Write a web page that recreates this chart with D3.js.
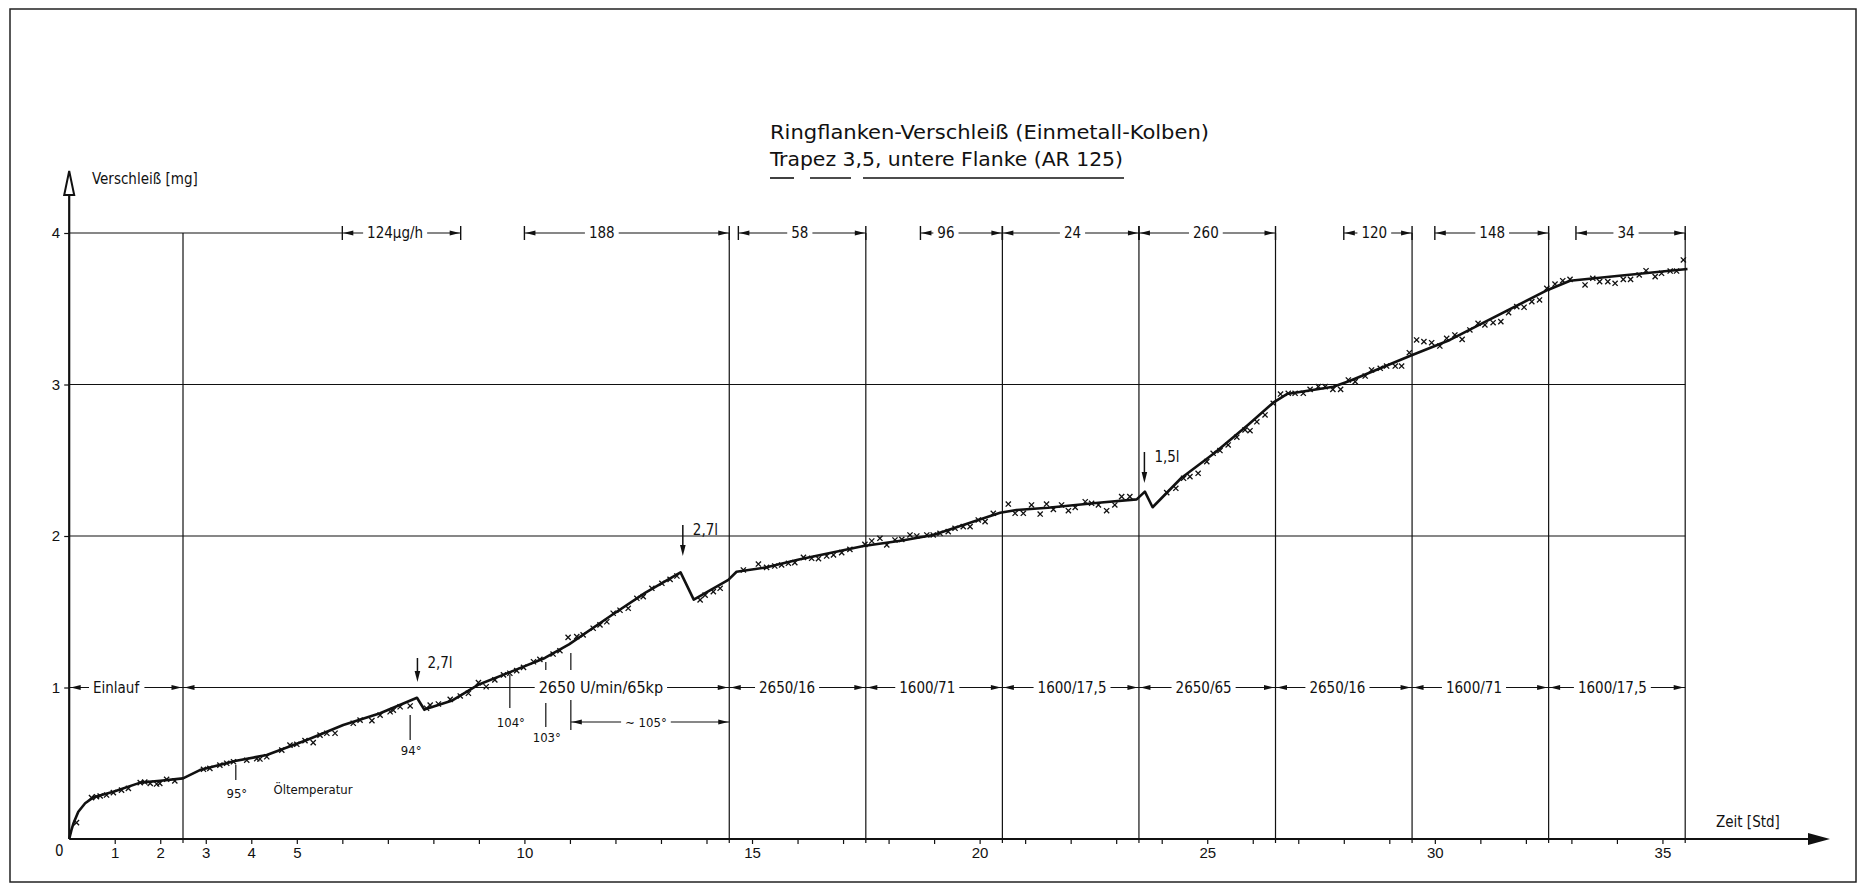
<!DOCTYPE html>
<html>
<head>
<meta charset="utf-8">
<script src="https://cdn.jsdelivr.net/npm/d3@7/dist/d3.min.js"></script>
<style>
  body { margin: 0; background: #fff; }
  svg { display: block; font-family: "DejaVu Sans Condensed", "DejaVu Sans", sans-serif; font-stretch: condensed; }
  text { fill: #111; }
</style>
</head>
<body>
<svg id="chart"></svg>
<script>
// drawn wear curve (hours, mg)
var curveH = [0, 0.05, 0.09, 0.2, 0.35, 0.53, 0.97, 1.56, 2.0, 2.5, 2.87, 3.64, 4.34, 5.22, 6.02, 6.83, 7.64, 7.8, 8.4, 9.0, 9.67,
  10.45, 10.98, 11.93, 12.66, 13.43, 13.72, 14.48, 14.66, 15.32, 16.03, 17.45, 18.3, 18.98, 20.45, 20.81, 21.5, 22.61, 23.45,
  23.63, 23.8, 24.43, 25.16, 25.9, 26.45, 26.75, 27.77, 28.14, 29.45, 30.33, 31.07, 32.48, 32.97, 34.0, 35.55];
var curveV = [0, 0.06, 0.10, 0.18, 0.236, 0.275, 0.312, 0.372, 0.385, 0.40, 0.455, 0.515, 0.554, 0.653, 0.752, 0.83, 0.932, 0.855, 0.912, 1.02, 1.10,
  1.195, 1.285, 1.48, 1.626, 1.76, 1.58, 1.71, 1.764, 1.793, 1.845, 1.934, 1.97, 2.007, 2.154, 2.172, 2.186, 2.219, 2.242,
  2.293, 2.19, 2.383, 2.548, 2.735, 2.88, 2.937, 2.985, 3.025, 3.188, 3.294, 3.408, 3.624, 3.685, 3.716, 3.762];

// measured points (x marks)
var markH = [0.16,0.49,0.60,0.68,0.82,0.97,1.15,1.30,1.56,1.66,1.78,1.92,1.99,2.14,2.32,
  2.95,3.09,3.31,3.46,3.61,3.90,4.12,4.19,4.34,4.67,4.85,5.0,5.18,5.36,5.51,5.66,5.84,
  6.24,6.39,6.65,6.83,7.05,7.12,7.27,7.49,7.85,
  7.93,8.11,8.37,8.59,8.77,8.99,9.16,9.35,9.54,9.68,9.83,9.98,10.2,10.34,10.63,10.78,
  10.96,11.15,11.29,11.51,11.66,11.81,11.95,12.1,12.28,12.47,12.61,12.8,13.02,13.2,13.35,13.86,
  13.97,14.15,14.3,14.81,15.14,15.32,15.5,15.65,15.8,15.94,16.13,16.31,16.46,16.64,16.79,16.97,17.15,
  17.48,17.63,17.81,17.96,18.14,18.29,18.47,18.62,18.84,18.98,19.13,19.31,19.46,19.64,19.79,19.97,20.12,20.3,
  20.63,20.78,20.96,21.14,21.33,21.47,21.62,21.8,21.95,22.1,22.32,22.46,22.61,22.79,22.97,23.12,23.3,
  24.11,24.31,24.48,24.62,24.8,24.99,25.13,25.28,25.46,25.65,25.83,25.94,26.09,26.27,
  26.45,26.61,26.78,26.93,27.11,27.26,27.44,27.59,27.76,27.93,28.1,28.25,28.47,28.61,28.8,28.94,29.13,29.27,
  29.44,29.6,29.76,29.93,30.11,30.26,30.44,30.6,30.77,30.95,31.1,31.28,31.45,31.62,31.8,31.96,32.13,32.3,
  32.46,32.64,32.81,32.97,33.3,33.47,33.62,33.8,33.96,34.14,34.3,34.49,34.64,34.84,34.98,35.17,35.31,35.46];
var markV = [0.108,0.273,0.279,0.284,0.29,0.306,0.323,0.334,0.372,0.376,0.367,0.363,0.367,0.394,0.383,
  0.46,0.466,0.488,0.50,0.51,0.52,0.53,0.528,0.543,0.587,0.62,0.625,0.649,0.636,0.686,0.698,0.698,
  0.764,0.785,0.781,0.818,0.84,0.85,0.873,0.878,0.863,
  0.884,0.891,0.922,0.944,0.962,1.032,1.005,1.05,1.083,1.094,1.111,1.133,1.17,1.186,1.221,1.243,
  1.331,1.336,1.347,1.391,1.413,1.434,1.49,1.51,1.523,1.589,1.60,1.655,1.688,1.714,1.736,1.578,
  1.61,1.633,1.655,1.776,1.815,1.793,1.802,1.809,1.82,1.824,1.859,1.853,1.85,1.868,1.875,1.89,1.912,
  1.945,1.967,1.985,1.941,1.974,1.978,2.007,2.0,2.007,2.007,2.018,2.029,2.051,2.062,2.062,2.106,2.095,2.15,
  2.211,2.15,2.15,2.205,2.145,2.211,2.176,2.205,2.167,2.189,2.226,2.216,2.205,2.167,2.205,2.26,2.26,
  2.286,2.315,2.381,2.392,2.414,2.491,2.546,2.564,2.601,2.652,2.70,2.695,2.754,2.799,
  2.876,2.937,2.942,2.942,2.942,2.968,2.986,2.986,2.968,2.968,3.03,3.019,3.056,3.096,3.107,3.122,3.122,3.122,
  3.21,3.294,3.283,3.276,3.254,3.305,3.327,3.298,3.36,3.404,3.393,3.408,3.415,3.474,3.514,3.51,3.547,3.558,
  3.635,3.663,3.685,3.694,3.657,3.701,3.679,3.679,3.668,3.694,3.694,3.723,3.751,3.712,3.734,3.749,3.749,3.822];

// axes
var xTicks = d3.range(1, 36);
var xTickLabels = [1, 2, 3, 4, 5, 10, 15, 20, 25, 30, 35];
var yTicks = [1, 2, 3, 4];

// operating phases (row at 1 mg)
var phaseBounds = [0, 2.5, 14.5, 17.5, 20.5, 23.5, 26.5, 29.5, 32.5, 35.5];
var phaseLabels = ["Einlauf", "2650 U/min/65kp", "2650/16", "1600/71", "1600/17,5", "2650/65", "2650/16", "1600/71", "1600/17,5"];
var phaseLabelH = [1.03, 11.68, 15.77, 18.85, 22.03, 24.92, 27.86, 30.86, 33.9];

// wear rates (row at 4 mg)
var rateLabels = ["124µg/h", "188", "58", "96", "24", "260", "120", "148", "34"];
var rateStart = [6.0, 10.0, 14.7, 18.7, 20.5, 23.5, 28.0, 30.0, 33.1];
var rateEnd = [8.6, 14.5, 17.5, 20.5, 23.5, 26.5, 29.5, 32.5, 35.5];
var rateLabelH = [7.16, 11.7, 16.05, 19.26, 22.04, 24.97, 28.67, 31.26, 34.2];

// oil temperatures
var tempLabels = ["95°", "94°", "104°", "103°"];
var tempH = [3.66, 7.49, 9.68, 10.47];

// oil refills
var oilLabels = ["2,7l", "2,7l", "1,5l"];
var oilH = [7.65, 13.48, 23.62];

var W = 1858, H = 884;
var svg = d3.select('#chart').attr('width', W).attr('height', H);

var x = d3.scaleLinear().domain([0, 35.5]).range([69.2, 1685.2]);
var y = d3.scaleLinear().domain([0, 4]).range([839, 233]);

// frame
svg.append('rect').attr('x', 10).attr('y', 9).attr('width', 1846).attr('height', 873)
  .attr('fill', 'none').attr('stroke', '#222').attr('stroke-width', 1.5);

// title
svg.append('text').attr('x', 770).attr('y', 139).attr('textLength', 439)
  .attr('lengthAdjust', 'spacingAndGlyphs').style('font-size', '20px')
  .text('Ringflanken-Verschleiß (Einmetall-Kolben)');
svg.append('text').attr('x', 770).attr('y', 166).attr('textLength', 353)
  .attr('lengthAdjust', 'spacingAndGlyphs').style('font-size', '20px')
  .text('Trapez 3,5, untere Flanke (AR 125)');
[[770, 794], [810, 851], [863, 1124]].forEach(function(s){
  svg.append('line').attr('x1', s[0]).attr('x2', s[1]).attr('y1', 178).attr('y2', 178)
    .attr('stroke', '#111').attr('stroke-width', 1.6);
});

var grid = svg.append('g').attr('stroke', '#111').attr('stroke-width', 1.2).attr('fill', 'none');

// horizontal lines at 1,2,3 mg
[1, 2, 3].forEach(function(v){
  grid.append('line').attr('x1', x(0)).attr('x2', x(35.5)).attr('y1', y(v)).attr('y2', y(v));
});
// line at 4 mg up to first rate dimension
grid.append('line').attr('x1', x(0)).attr('x2', x(rateStart[0])).attr('y1', y(4)).attr('y2', y(4));

// vertical phase lines
phaseBounds.slice(1).forEach(function(b){
  grid.append('line').attr('x1', x(b)).attr('x2', x(b)).attr('y1', y(4)).attr('y2', y(0) + 4);
});

function hArrow(g, xt, yy, dir){
  // dir -1 = pointing left, +1 = pointing right
  g.append('path').attr('d', 'M' + xt + ',' + yy + 'L' + (xt - dir * 10) + ',' + (yy - 2.4) +
    'L' + (xt - dir * 10) + ',' + (yy + 2.4) + 'Z').attr('fill', '#111').attr('stroke', 'none');
}
function maskedLabel(g, txt, cx, cy, size){
  var r = g.append('rect').attr('fill', '#fff').attr('stroke', 'none');
  var t = g.append('text').attr('x', cx).attr('y', cy).attr('text-anchor', 'middle')
    .attr('dominant-baseline', 'central').style('font-size', size + 'px').text(txt);
  var b = t.node().getBBox();
  r.attr('x', b.x - 4).attr('y', b.y + 1).attr('width', b.width + 8).attr('height', b.height - 2);
}

// rate dimensions at 4 mg
var rateG = svg.append('g');
rateLabels.forEach(function(lab, i){
  var a = x(rateStart[i]), b = x(rateEnd[i]), yy = y(4);
  rateG.append('line').attr('x1', a).attr('x2', b).attr('y1', yy).attr('y2', yy)
    .attr('stroke', '#111').attr('stroke-width', 1.2);
  [a, b].forEach(function(p){
    rateG.append('line').attr('x1', p).attr('x2', p).attr('y1', yy - 7).attr('y2', yy + 7)
      .attr('stroke', '#111').attr('stroke-width', 1.4);
  });
  hArrow(rateG, a + 1, yy, -1);
  hArrow(rateG, b - 1, yy, 1);
  maskedLabel(rateG, lab, x(rateLabelH[i]), yy, 15);
});

// phase dimensions at 1 mg
var phaseG = svg.append('g');
phaseLabels.forEach(function(lab, i){
  var a = x(phaseBounds[i]), b = x(phaseBounds[i + 1]), yy = y(1);
  hArrow(phaseG, a + 1.5, yy, -1);
  hArrow(phaseG, b - 1.5, yy, 1);
  maskedLabel(phaseG, lab, x(phaseLabelH[i]), yy, i === 1 ? 16 : 15);
});

// ~105° dimension
var d105 = svg.append('g');
(function(){
  var a = x(11.02), b = x(14.5), yy = 722;
  d105.append('line').attr('x1', a).attr('x2', b).attr('y1', yy).attr('y2', yy)
    .attr('stroke', '#111').attr('stroke-width', 1.1);
  hArrow(d105, a + 1, yy, -1);
  hArrow(d105, b - 1, yy, 1);
  maskedLabel(d105, '∼ 105°', x(12.67), yy, 13);
})();

// temperature ticks
var tempG = svg.append('g');
var tempTicks = [[[765, 780]], [[715, 740]], [[675, 708]], [[662, 670], [703, 727]]];
var tempLabelY = [793, 750, 722, 737];
tempLabels.forEach(function(lab, i){
  tempTicks[i].forEach(function(s){
    tempG.append('line').attr('x1', x(tempH[i])).attr('x2', x(tempH[i])).attr('y1', s[0]).attr('y2', s[1])
      .attr('stroke', '#111').attr('stroke-width', 1.2);
  });
  tempG.append('text').attr('x', x(tempH[i]) + 1).attr('y', tempLabelY[i]).attr('text-anchor', 'middle')
    .attr('dominant-baseline', 'central').style('font-size', '13px').text(lab);
});
[[653, 670], [700, 730]].forEach(function(s){
  tempG.append('line').attr('x1', x(11.02)).attr('x2', x(11.02)).attr('y1', s[0]).attr('y2', s[1])
    .attr('stroke', '#111').attr('stroke-width', 1.2);
});
tempG.append('text').attr('x', 313).attr('y', 789).attr('text-anchor', 'middle')
  .attr('dominant-baseline', 'central').style('font-size', '13px').text('Öltemperatur');

// oil refill arrows
var oilG = svg.append('g');
var oilY = [[658, 682], [525, 556], [452, 483]];
oilLabels.forEach(function(lab, i){
  var px = x(oilH[i]), y0 = oilY[i][0], y1 = oilY[i][1];
  oilG.append('line').attr('x1', px).attr('x2', px).attr('y1', y0).attr('y2', y1 - 6)
    .attr('stroke', '#111').attr('stroke-width', 1.5);
  oilG.append('path').attr('d', 'M' + px + ',' + y1 + 'L' + (px - 2.8) + ',' + (y1 - 11) + 'L' + (px + 2.8) + ',' + (y1 - 11) + 'Z')
    .attr('fill', '#111');
  oilG.append('text').attr('x', px + 10).attr('y', y0 + 5).attr('dominant-baseline', 'central')
    .style('font-size', '15px').text(lab);
});

// x axis
var xAxis = d3.axisBottom(x).tickValues(xTicks).tickSize(5).tickPadding(3)
  .tickFormat(function(d){ return xTickLabels.indexOf(d) >= 0 ? d : ''; });
var gx = svg.append('g').attr('transform', 'translate(0,' + y(0) + ')').call(xAxis);
gx.select('.domain').remove();
gx.selectAll('.tick line').attr('stroke', '#111').attr('stroke-width', 1.2);
gx.selectAll('.tick text').style('font-size', '15px').style('font-family', null).attr('fill', '#111');

svg.append('line').attr('x1', x(0)).attr('x2', 1812).attr('y1', y(0)).attr('y2', y(0))
  .attr('stroke', '#111').attr('stroke-width', 2.2);
svg.append('path').attr('d', 'M1808,833 L1830,839 L1808,845 Z').attr('fill', '#111');
svg.append('text').attr('x', 1716).attr('y', 827).style('font-size', '15px').text('Zeit [Std]');

// y axis
var yAxis = d3.axisLeft(y).tickValues(yTicks).tickSize(5).tickPadding(4).tickFormat(d3.format('d'));
var gy = svg.append('g').attr('transform', 'translate(' + x(0) + ',0)').call(yAxis);
gy.select('.domain').remove();
gy.selectAll('.tick line').attr('stroke', '#111').attr('stroke-width', 1.2);
gy.selectAll('.tick text').style('font-size', '15px').style('font-family', null).attr('fill', '#111');
svg.append('text').attr('x', x(0) - 10).attr('y', 851).attr('text-anchor', 'middle')
  .attr('dominant-baseline', 'central').style('font-size', '15px').text('0');

svg.append('line').attr('x1', x(0)).attr('x2', x(0)).attr('y1', y(0)).attr('y2', 176)
  .attr('stroke', '#111').attr('stroke-width', 2.2);
svg.append('path').attr('d', 'M' + x(0) + ',171 L' + (x(0) - 5) + ',195 L' + (x(0) + 5) + ',195 Z')
  .attr('fill', '#fff').attr('stroke', '#111').attr('stroke-width', 2);
svg.append('text').attr('x', 92).attr('y', 184).style('font-size', '15px').text('Verschleiß [mg]');

// curve
var line = d3.line().x(function(d){ return x(d[0]); }).y(function(d){ return y(d[1]); })
  .curve(d3.curveLinear);
svg.append('path').datum(curveH.map(function(h, i){ return [h, curveV[i]]; }))
  .attr('d', line).attr('fill', 'none').attr('stroke', '#111').attr('stroke-width', 2.6)
  .attr('stroke-linejoin', 'round');

// x marks
svg.append('g').selectAll('path').data(markH.map(function(h, i){ return [h, markV[i]]; }))
  .enter().append('path')
  .attr('transform', function(d){ return 'translate(' + x(d[0]) + ',' + y(d[1]) + ')'; })
  .attr('d', 'M-2.6,-2.6L2.6,2.6M-2.6,2.6L2.6,-2.6')
  .attr('stroke', '#111').attr('stroke-width', 1.3);
</script>
</body>
</html>
